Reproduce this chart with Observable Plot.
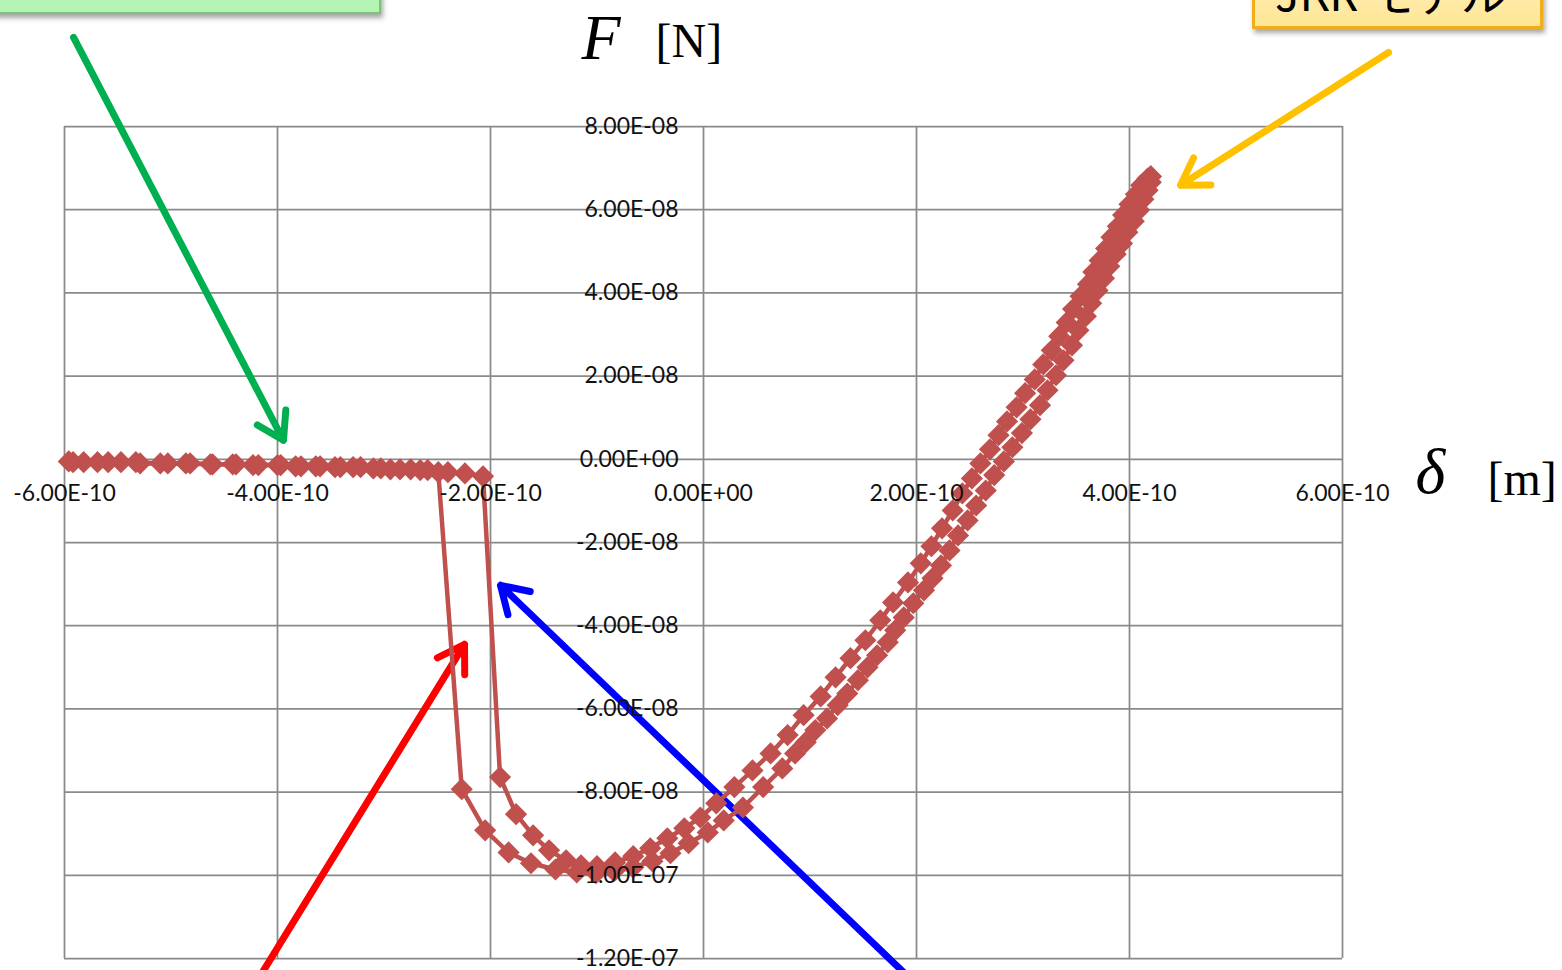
<!DOCTYPE html>
<html>
<head>
<meta charset="utf-8">
<script src="https://cdn.jsdelivr.net/npm/d3@7"></script>
<script src="https://cdn.jsdelivr.net/npm/@observablehq/plot@0.6"></script>
<style>
  html, body { margin: 0; padding: 0; background: #ffffff; overflow: hidden; }
  #wrap { position: relative; width: 1562px; height: 970px; overflow: hidden; }
  #chart svg { display: block; }
  .box { position: absolute; box-sizing: border-box; }
  #greenBox { left: -10px; top: -60px; width: 391px; height: 74px;
    background: #b5f4b5; border: 2px solid #79c479;
    box-shadow: 2px 4px 5px rgba(0,0,0,0.35); }
  #yellowBox { left: 1252px; top: -70px; width: 291px; height: 99px;
    background: linear-gradient(to bottom, #fff6d2 0%, #ffe696 100%);
    border: 3px solid #f2ae18; box-shadow: 2px 4px 5px rgba(0,0,0,0.35); }
  #yellowBox span { position: absolute; left: 20px; top: 35px; white-space: nowrap;
    font-family: "Noto Sans CJK JP", sans-serif; font-size: 46px; line-height: 46px; color: #000; }
</style>
</head>
<body>
<div id="wrap">
  <div id="chart"></div>
  <div class="box" id="greenBox"></div>
  <div class="box" id="yellowBox"><span>JKR モデル</span></div>
</div>
<script>
// ---- Data (δ in m, F in N) ----
// Approach branch (tip moving in): far field, snap-in, loading up to max
const approachDelta = [
  -5.92e-10, -5.69e-10, -5.47e-10, -5.29e-10, -5.03e-10, -4.82e-10, -4.61e-10, -4.42e-10, -4.23e-10, -4.00e-10,
  -3.83e-10, -3.64e-10, -3.46e-10, -3.29e-10, -3.10e-10, -2.94e-10, -2.75e-10, -2.59e-10, -2.40e-10, -2.24e-10,
  -2.07e-10,
  -1.91e-10, -1.76e-10, -1.60e-10, -1.45e-10, -1.29e-10, -1.15e-10, -1.00e-10, -0.83e-10, -0.66e-10, -0.50e-10,
  -0.34e-10, -0.18e-10, -0.03e-10, 0.12e-10, 0.29e-10, 0.46e-10, 0.63e-10, 0.79e-10, 0.94e-10, 1.10e-10,
  1.24e-10, 1.38e-10, 1.52e-10, 1.66e-10, 1.78e-10, 1.92e-10, 2.04e-10, 2.14e-10, 2.24e-10, 2.34e-10,
  2.43e-10, 2.52e-10, 2.60e-10, 2.69e-10, 2.77e-10, 2.85e-10, 2.94e-10, 3.02e-10, 3.11e-10, 3.19e-10,
  3.27e-10, 3.34e-10, 3.41e-10, 3.47e-10, 3.54e-10, 3.61e-10, 3.66e-10, 3.72e-10, 3.78e-10, 3.83e-10,
  3.89e-10, 3.94e-10, 4.00e-10, 4.06e-10, 4.11e-10, 4.17e-10, 4.20e-10
];
const approachForce = [
  -0.07e-8, -0.07e-8, -0.07e-8, -0.10e-8, -0.10e-8, -0.10e-8, -0.12e-8, -0.12e-8, -0.14e-8, -0.14e-8,
  -0.17e-8, -0.17e-8, -0.19e-8, -0.19e-8, -0.22e-8, -0.24e-8, -0.24e-8, -0.26e-8, -0.31e-8, -0.34e-8,
  -0.41e-8,
  -7.64e-8, -8.53e-8, -9.04e-8, -9.40e-8, -9.64e-8, -9.76e-8, -9.78e-8, -9.69e-8, -9.54e-8, -9.35e-8,
  -9.11e-8, -8.87e-8, -8.61e-8, -8.27e-8, -7.88e-8, -7.48e-8, -7.07e-8, -6.63e-8, -6.15e-8, -5.70e-8,
  -5.24e-8, -4.78e-8, -4.35e-8, -3.87e-8, -3.44e-8, -2.96e-8, -2.50e-8, -2.09e-8, -1.66e-8, -1.23e-8,
  -0.82e-8, -0.46e-8, -0.10e-8, 0.24e-8, 0.58e-8, 0.91e-8, 1.25e-8, 1.59e-8, 1.92e-8, 2.28e-8,
  2.62e-8, 2.96e-8, 3.29e-8, 3.61e-8, 3.92e-8, 4.21e-8, 4.50e-8, 4.78e-8, 5.07e-8, 5.34e-8,
  5.60e-8, 5.87e-8, 6.13e-8, 6.37e-8, 6.59e-8, 6.75e-8, 6.80e-8
];
// Retract branch (tip moving out): unloading, pull-off, far field
const retractDelta = [
  4.20e-10, 4.20e-10, 4.17e-10, 4.13e-10, 4.09e-10, 4.04e-10, 3.98e-10, 3.93e-10, 3.87e-10, 3.81e-10,
  3.76e-10, 3.70e-10, 3.64e-10, 3.59e-10, 3.52e-10, 3.46e-10, 3.38e-10, 3.31e-10, 3.23e-10, 3.16e-10,
  3.07e-10, 2.99e-10, 2.90e-10, 2.82e-10, 2.73e-10, 2.65e-10, 2.56e-10, 2.48e-10, 2.39e-10, 2.31e-10,
  2.23e-10, 2.15e-10, 2.07e-10, 1.97e-10, 1.88e-10, 1.80e-10, 1.73e-10, 1.63e-10, 1.54e-10, 1.45e-10,
  1.35e-10, 1.26e-10, 1.16e-10, 1.05e-10, 0.96e-10, 0.86e-10, 0.74e-10, 0.56e-10, 0.37e-10, 0.19e-10,
  0.04e-10, -0.14e-10, -0.31e-10, -0.48e-10, -0.66e-10, -0.84e-10, -1.01e-10, -1.19e-10, -1.39e-10, -1.62e-10,
  -1.83e-10, -2.05e-10, -2.27e-10,
  -2.49e-10, -2.66e-10, -2.85e-10, -3.03e-10, -3.22e-10, -3.41e-10, -3.60e-10, -3.78e-10, -3.97e-10, -4.18e-10,
  -4.39e-10, -4.63e-10, -4.86e-10, -5.10e-10, -5.33e-10, -5.59e-10, -5.82e-10, -5.96e-10
];
const retractForce = [
  6.80e-8, 6.66e-8, 6.47e-8, 6.25e-8, 5.99e-8, 5.72e-8, 5.46e-8, 5.19e-8, 4.93e-8, 4.64e-8,
  4.35e-8, 4.06e-8, 3.75e-8, 3.44e-8, 3.10e-8, 2.74e-8, 2.38e-8, 2.02e-8, 1.66e-8, 1.30e-8,
  0.96e-8, 0.63e-8, 0.29e-8, -0.05e-8, -0.38e-8, -0.75e-8, -1.11e-8, -1.47e-8, -1.83e-8, -2.19e-8,
  -2.55e-8, -2.86e-8, -3.15e-8, -3.46e-8, -3.80e-8, -4.11e-8, -4.40e-8, -4.71e-8, -5.00e-8, -5.31e-8,
  -5.63e-8, -5.91e-8, -6.23e-8, -6.51e-8, -6.80e-8, -7.07e-8, -7.43e-8, -7.88e-8, -8.37e-8, -8.68e-8,
  -8.97e-8, -9.23e-8, -9.47e-8, -9.66e-8, -9.81e-8, -9.90e-8, -9.95e-8, -9.93e-8, -9.86e-8, -9.71e-8,
  -9.45e-8, -8.92e-8, -7.93e-8,
  -0.31e-8, -0.26e-8, -0.24e-8, -0.22e-8, -0.19e-8, -0.19e-8, -0.17e-8, -0.17e-8, -0.14e-8, -0.14e-8,
  -0.12e-8, -0.12e-8, -0.10e-8, -0.10e-8, -0.07e-8, -0.07e-8, -0.07e-8, -0.05e-8
];

// Axis ticks and their labels
const xTicks = [-6e-10, -4e-10, -2e-10, 0, 2e-10, 4e-10, 6e-10];
const xTickLabels = ["-6.00E-10", "-4.00E-10", "-2.00E-10", "0.00E+00", "2.00E-10", "4.00E-10", "6.00E-10"];
const yTicks = [-1.2e-7, -1e-7, -8e-8, -6e-8, -4e-8, -2e-8, 0, 2e-8, 4e-8, 6e-8, 8e-8];
const yTickLabels = ["-1.20E-07", "-1.00E-07", "-8.00E-08", "-6.00E-08", "-4.00E-08", "-2.00E-08",
                     "0.00E+00", "2.00E-08", "4.00E-08", "6.00E-08", "8.00E-08"];

// Annotation arrows (start / end in data units)
const arrowNames = ["green", "yellow", "red", "blue"];
const arrowFromDelta = [-5.915e-10, 6.432e-10, -4.141e-10, 1.878e-10];
const arrowFromForce = [10.14e-8, 9.78e-8, -12.33e-8, -12.33e-8];
const arrowToDelta = [-3.944e-10, 4.479e-10, -2.244e-10, -1.906e-10];
const arrowToForce = [0.457e-8, 6.587e-8, -4.447e-8, -3.029e-8];

// ---- Build tables ----
const approach = approachDelta.map((d, i) => ({delta: d, force: approachForce[i]}));
const retract = retractDelta.map((d, i) => ({delta: d, force: retractForce[i]}));
const arrows = arrowNames.map((n, i) => ({name: n, x1: arrowFromDelta[i], y1: arrowFromForce[i],
  x2: arrowToDelta[i], y2: arrowToForce[i]}));
const arrowColor = {green: "#00b050", yellow: "#ffc000", red: "#ff0000", blue: "#0000ff"};

const seriesColor = "#c0504d";
const gridColor = "#8a8a8a";
const labelFont = "Lato, 'Open Sans', sans-serif";
const serif = "'Liberation Serif', 'DejaVu Serif', serif";

const arrowMarks = arrows.map(a => Plot.arrow([a], {
  x1: "x1", y1: "y1", x2: "x2", y2: "y2",
  stroke: arrowColor[a.name], strokeWidth: 7, headLength: 6.5, headAngle: 64
}));

const chart = Plot.plot({
  width: 1562,
  height: 970,
  marginLeft: 64,
  marginRight: 220,
  marginTop: 126,
  marginBottom: 12,
  style: {background: "transparent", overflow: "visible"},
  x: {domain: [-6e-10, 6e-10], axis: null},
  y: {domain: [-1.2e-7, 8e-8], axis: null},
  marks: [
    Plot.ruleX(xTicks, {stroke: gridColor, strokeWidth: 1.75}),
    Plot.ruleY(yTicks, {stroke: gridColor, strokeWidth: 1.75}),
    ...arrowMarks,
    Plot.line(approach, {x: "delta", y: "force", stroke: seriesColor, strokeWidth: 4.5}),
    Plot.line(retract, {x: "delta", y: "force", stroke: seriesColor, strokeWidth: 4.5}),
    Plot.dot(approach, {x: "delta", y: "force", symbol: "diamond2", r: 10, fill: seriesColor}),
    Plot.dot(retract, {x: "delta", y: "force", symbol: "diamond2", r: 10, fill: seriesColor}),
    Plot.text(xTicks, {x: d => d, y: 0, text: (d, i) => xTickLabels[i], dy: 34,
      textAnchor: "middle", lineAnchor: "middle", fontSize: 23, fontFamily: labelFont, fill: "#111"}),
    Plot.text(yTicks, {x: 0, y: d => d, text: (d, i) => yTickLabels[i], dx: -25,
      textAnchor: "end", lineAnchor: "middle", fontSize: 23, fontFamily: labelFont, fill: "#111"}),
    // Axis titles
    Plot.text(["F"], {x: 0, y: 8e-8, text: d => d, dx: -122, dy: -68, textAnchor: "start",
      lineAnchor: "bottom", fontSize: 64, fontStyle: "italic", fontFamily: serif, fill: "#000"}),
    Plot.text(["[N]"], {x: 0, y: 8e-8, text: d => d, dx: -48, dy: -70, textAnchor: "start",
      lineAnchor: "bottom", fontSize: 48, fontFamily: serif, fill: "#000"}),
    Plot.text(["δ"], {x: 6e-10, y: 0, text: d => d, dx: 73, dy: 34, textAnchor: "start",
      lineAnchor: "bottom", fontSize: 64, fontStyle: "italic", fontFamily: serif, fill: "#000"}),
    Plot.text(["[m]"], {x: 6e-10, y: 0, text: d => d, dx: 145, dy: 36, textAnchor: "start",
      lineAnchor: "bottom", fontSize: 48, fontFamily: serif, fill: "#000"})
  ]
});
document.getElementById("chart").appendChild(chart);
</script>
</body>
</html>
